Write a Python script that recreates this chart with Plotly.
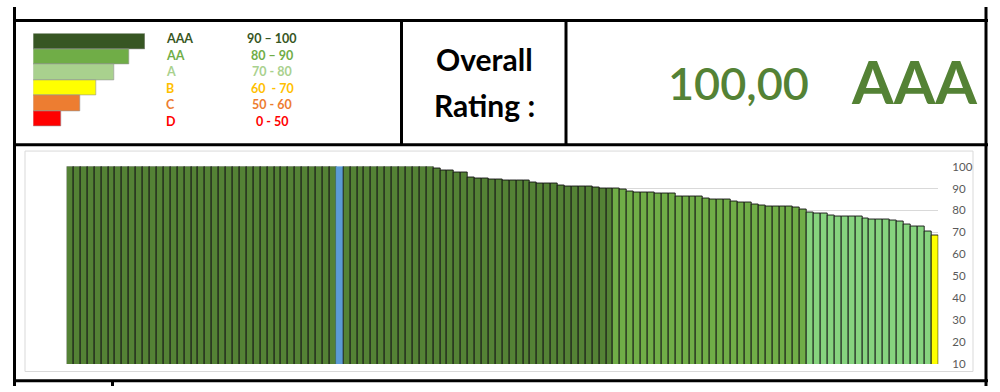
import plotly.graph_objects as go

W, H = 1000, 392

# ---------------- data ----------------
scores = [100.0] * 53 + [
    99.3, 98.1, 98.1, 97.1, 97.1, 95.0, 94.4, 94.4, 94.0, 94.0,
    93.6, 93.6, 93.6, 93.6, 92.7, 92.1, 92.1, 92.1, 91.5, 90.9,
    90.9, 90.9, 90.9, 90.5, 90.1, 90.1, 89.9, 89.4, 88.7, 88.0,
    88.0, 88.0, 87.5, 87.5, 87.5, 86.4, 86.4, 86.4, 86.4, 85.5,
    84.9, 84.9, 84.9, 83.9, 83.4, 83.4, 82.8, 82.4, 81.8, 81.8,
    81.8, 81.8, 81.2, 80.6, 79.0, 78.4, 78.4, 77.8, 77.4, 77.4,
    77.0, 77.0, 76.4, 75.9, 75.9, 75.9, 75.5, 74.9, 73.4, 72.7,
    72.7, 70.4, 68.5,
]
ranks = list(range(1, len(scores) + 1))
highlight_rank = 40

band_names = ["AAA", "AA", "A", "B", "C", "D"]
band_lower = [90, 80, 70, 60, 50, 0]
band_chart_colors = ["#548235", "#70AD47", "#86D37E", "#FFFF00", "#ED7D31", "#FF0000"]

legend_ranges = ["90 – 100", "80 – 90", "70 - 80", "60\u00a0\u00a0- 70", "50 - 60", "0 - 50"]
legend_lengths = [112, 96, 81, 63, 47, 28]
legend_fill = ["#375623", "#70AD47", "#A9D18E", "#FFFF00", "#ED7D31", "#FF0000"]
legend_text_colors = ["#375623", "#70AD47", "#A9D18E", "#FFC000", "#ED7D31", "#FF0000"]

overall_label = ["Overall", "Rating :"]
overall_score = "100,00"
overall_rating = "AAA"

y_ticks = [10, 20, 30, 40, 50, 60, 70, 80, 90, 100]


def band_color(v):
    for lo, col in zip(band_lower, band_chart_colors):
        if v >= lo:
            return col
    return band_chart_colors[-1]


bar_colors = []
line_colors = []
for r, v in zip(ranks, scores):
    if r == highlight_rank:
        bar_colors.append("#5B9BD5")
        line_colors.append("#5B9BD5")
    else:
        bar_colors.append(band_color(v))
        line_colors.append("rgba(20,20,20,0.9)")


def px(x):
    return x / W


def py(y):
    return 1 - y / H


fig = go.Figure()

fig.add_trace(go.Bar(
    x=ranks, y=scores,
    marker=dict(color=bar_colors, line=dict(color=line_colors, width=1)),
    xaxis="x", yaxis="y", showlegend=False, hoverinfo="x+y",
))

fig.add_trace(go.Bar(
    x=legend_lengths, y=band_names, orientation="h",
    marker=dict(color=legend_fill, line=dict(color="rgba(150,150,150,0.6)", width=1)),
    xaxis="x2", yaxis="y2", showlegend=False, hoverinfo="skip",
))

shapes = []
# chart frame
shapes.append(dict(type="rect", xref="paper", yref="paper",
                   x0=px(25), x1=px(973), y0=py(377), y1=py(149),
                   line=dict(color="#D9D9D9", width=1), layer="below"))


def hline(y, x0, x1):
    shapes.append(dict(type="line", xref="paper", yref="paper",
                       x0=px(x0), x1=px(x1), y0=py(y), y1=py(y),
                       line=dict(color="black", width=3)))


def vline(x, y0, y1):
    shapes.append(dict(type="line", xref="paper", yref="paper",
                       x0=px(x), x1=px(x), y0=py(y0), y1=py(y1),
                       line=dict(color="black", width=3)))


hline(14, 13, 988)
hline(142.5, 13, 988)
hline(386.5, 13, 988)
vline(14.5, 0, 392)
vline(986, 0, 392)
vline(401.5, 14, 142)
vline(566, 14, 142)
vline(112.5, 386, 392)

annotations = []
label_y = [33, 50, 67, 84, 101, 118]
for name, rng, col, yy in zip(band_names, legend_ranges, legend_text_colors, label_y):
    annotations.append(dict(xref="paper", yref="paper", x=px(164), y=py(yy),
                            xanchor="left", yanchor="middle", text="<b>%s</b>" % name,
                            showarrow=False, font=dict(family="Lato", size=12.5, color=col)))
    annotations.append(dict(xref="paper", yref="paper", x=px(272), y=py(yy),
                            xanchor="center", yanchor="middle", text="<b>%s</b>" % rng,
                            showarrow=False, font=dict(family="Lato", size=12.5, color=col)))

for txt, yy in zip(overall_label, [54, 101]):
    annotations.append(dict(xref="paper", yref="paper", x=px(484), y=py(yy),
                            xanchor="center", yanchor="middle", text="<b>%s</b>" % txt,
                            showarrow=False, font=dict(family="Lato", size=30, color="black")))

annotations.append(dict(xref="paper", yref="paper", x=px(738), y=py(79),
                        xanchor="center", yanchor="middle", text=overall_score,
                        showarrow=False,
                        font=dict(family="Lato", size=45, weight=600, color="#548235")))
annotations.append(dict(xref="paper", yref="paper", x=px(914), y=py(77),
                        xanchor="center", yanchor="middle", text="<b>%s</b>" % overall_rating,
                        showarrow=False, font=dict(family="Lato", size=60, color="#548235")))

fig.update_layout(
    width=W, height=H,
    margin=dict(l=0, r=0, t=0, b=0),
    paper_bgcolor="white", plot_bgcolor="rgba(0,0,0,0)",
    bargap=0,
    xaxis=dict(domain=[px(66.7), px(938.3)], range=[0.5, len(scores) + 0.5],
               visible=False, fixedrange=True),
    yaxis=dict(domain=[py(369.3), py(165)], range=[10, 100], side="right",
               tickvals=y_ticks, showgrid=True, gridcolor="#D9D9D9", gridwidth=1,
               zeroline=False, showline=False, ticks="",
               ticklabelstandoff=13,
               tickfont=dict(family="Lato", size=11.5, color="#595959"), fixedrange=True),
    xaxis2=dict(domain=[px(33.3), px(145)], range=[0, legend_lengths[0]],
                visible=False, fixedrange=True, anchor="y2"),
    yaxis2=dict(domain=[py(124), py(27.3)], autorange="reversed", visible=False,
                fixedrange=True, anchor="x2", type="category"),
    shapes=shapes,
    annotations=annotations,
    font=dict(family="Lato"),
)

fig.write_html("out.html")
